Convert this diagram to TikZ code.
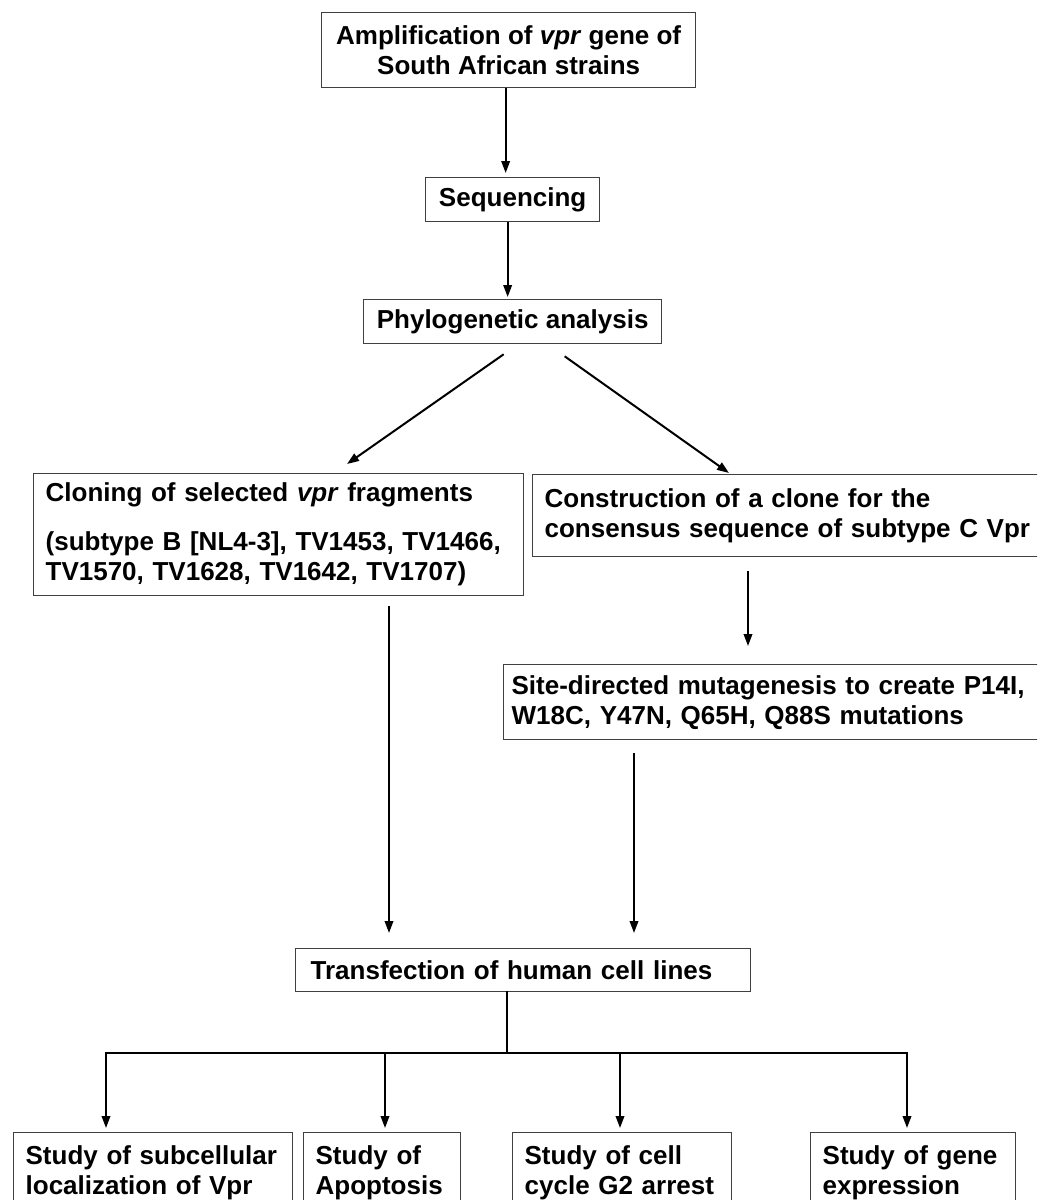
\documentclass[tikz,border=0pt]{standalone}
\usepackage{fontspec}
\setmainfont{Liberation Sans}
\usetikzlibrary{calc, arrows.meta}

\begin{document}
\begin{tikzpicture}[
    x=1pt, y=-1pt, % work in image pixels, y pointing down
    >={Triangle[length=12pt, width=8.5pt]}, % narrow filled arrow tips
    box/.style={draw=black!75, line width=1.3pt, anchor=north west, inner ysep=0pt,
      font=\fontsize{26}{30}\selectfont\bfseries}, % framed step
    flow/.style={->, line width=2pt}, % arrow between steps
    link/.style={-, line width=2pt, line cap=rect} % plain connector line
  ]

  \clip (0,0) rectangle (1037,1200); % picture frame

  % --- Upper chain ---
  \node[box, minimum width=374pt, minimum height=75pt, align=center] (amp) at (321,12)
    {Amplification of \textit{vpr} gene of\\ South African strains};
  \node[box, minimum width=174pt, minimum height=44pt, align=center] (seq) at (425,177) {Sequencing};
  \node[box, minimum width=298pt, minimum height=44pt, align=center] (phylo) at (363,299) {Phylogenetic analysis};

  \draw[flow, shorten >=4pt] ($(amp.south)+(-3,0)$) -- ($(amp.south |- seq.north)+(-3,0)$);
  \draw[flow, shorten >=2pt] ($(seq.south)+(-5,0)$) -- ($(seq.south |- phylo.north)+(-5,0)$);

  % --- Two branches ---
  \node[box, text width=466pt, inner xsep=12pt, minimum height=122pt, align=left] (clon) at (33,473)
    {Cloning of selected \textit{vpr} fragments\\[19pt] (subtype B [NL4-3], TV1453, TV1466,\\ TV1570, TV1628, TV1642, TV1707)};
  \node[box, text width=489pt, inner xsep=12pt, minimum height=82pt, align=left] (cons) at (532,474)
    {Construction of a clone for the\\ consensus sequence of subtype C Vpr};
  \node[box, text width=526pt, inner xsep=8pt, minimum height=75pt, align=left] (site) at (503,664)
    {Site-directed mutagenesis to create P14I,\\ W18C, Y47N, Q65H, Q88S mutations};

  \draw[flow] ($(phylo.south)+(-9,10)$) -- ($(clon.north west)+(314,-9)$);
  \draw[flow] ($(phylo.south)+(52,12)$) -- ($(cons.north west)+(197,-1)$);
  \draw[flow] ($(cons.south west)+(216,14)$) -- ($(site.north west)+(245,-18)$);

  % --- Transfection ---
  \node[box, text width=425pt, inner xsep=15pt, minimum height=43pt, align=left] (trans) at (295,948)
    {Transfection of human cell lines};

  \draw[flow] ($(clon.south west)+(356,10)$) -- ($(trans.north west)+(94,-15)$);
  \draw[flow] ($(site.south west)+(131,13)$) -- ($(trans.north west)+(339,-15)$);

  % --- Studies ---
  \node[box, text width=255pt, inner xsep=12pt, minimum height=80pt, align=left] (s1) at (13,1132)
    {Study of subcellular\\ localization of Vpr};
  \node[box, text width=133pt, inner xsep=12pt, minimum height=80pt, align=left] (s2) at (303,1132)
    {Study of\\ Apoptosis};
  \node[box, text width=195pt, inner xsep=12pt, minimum height=80pt, align=left] (s3) at (512,1132)
    {Study of cell\\ cycle G2 arrest};
  \node[box, text width=181pt, inner xsep=12pt, minimum height=80pt, align=left] (s4) at (810,1132)
    {Study of gene\\ expression};

  \coordinate (bus) at ($(trans.south west)+(212,61)$);
  \draw[link] ($(trans.south west)+(212,0)$) -- (bus);
  \foreach \s/\dx in {s1/93, s2/82, s3/108, s4/97} {
    \coordinate (\s-top) at ($(\s.north west)+(\dx,-4)$);
    \draw[flow] (\s-top |- bus) -- (\s-top);
  }
  \draw[link] (s1-top |- bus) -- (s4-top |- bus);

\end{tikzpicture}
\end{document}
